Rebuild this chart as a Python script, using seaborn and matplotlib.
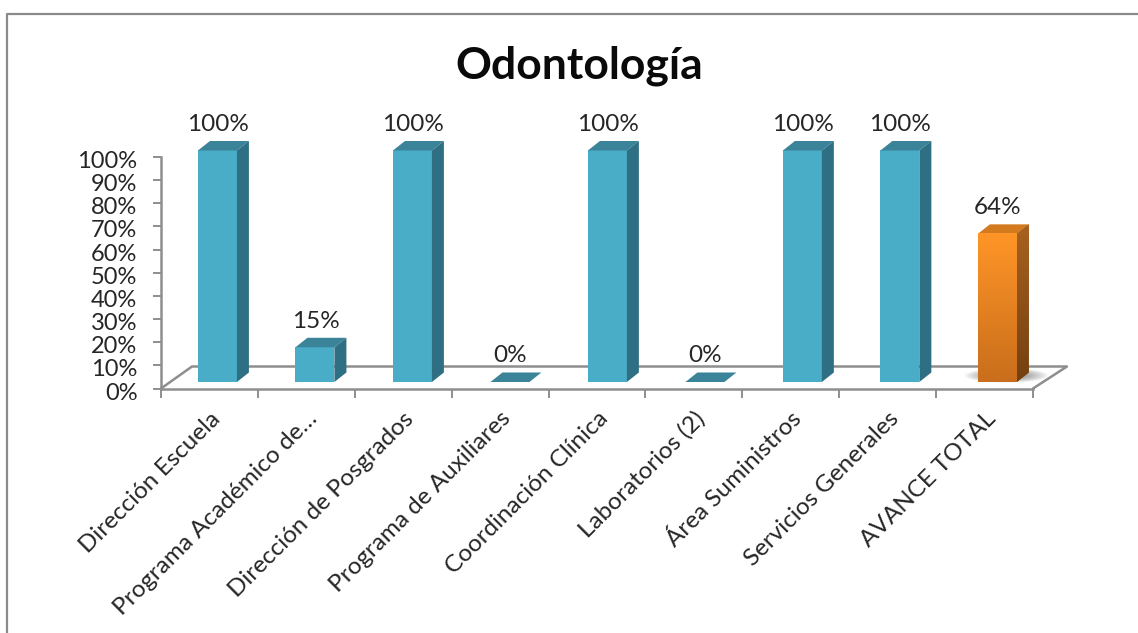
import numpy as np
import pandas as pd
import matplotlib
matplotlib.use("Agg")
import matplotlib.pyplot as plt
from matplotlib.lines import Line2D
from matplotlib.patches import Polygon
from matplotlib.colors import LinearSegmentedColormap
from matplotlib.ticker import PercentFormatter
from matplotlib.transforms import ScaledTranslation
import seaborn as sns

categories = ["Dirección Escuela", "Programa Académico de…", "Dirección de Posgrados",
              "Programa de Auxiliares", "Coordinación Clínica", "Laboratorios (2)",
              "Área Suministros", "Servicios Generales", "AVANCE TOTAL"]
values = [100, 15, 100, 0, 100, 0, 100, 100, 64]
bar_colors = ["#4AADC8"] * 8 + ["#E9851F"]
side_colors = ["#2F6F83"] * 8 + ["#8F5218"]
top_colors = ["#3A8399"] * 8 + ["#D47A1E"]
ticks = list(range(0, 101, 10))

W, H = 1138, 633
X0, X1, Y0, Y1 = 161, 1033, 388.5, 157

sns.set_theme(style="white")
plt.rcParams["font.family"] = ["Lato", "DejaVu Sans"]
TXT = "#262626"
AX = "#8E8E8E"

fig = plt.figure(figsize=(W / 100, H / 100), dpi=100, facecolor="white")
ax = fig.add_axes([X0 / W, 1 - Y0 / H, (X1 - X0) / W, (Y0 - Y1) / H])

df = pd.DataFrame({"cat": categories, "val": values})
sns.barplot(data=df, x="cat", y="val", hue="cat", palette=bar_colors, legend=False,
            width=0.402, ax=ax, saturation=1, linewidth=0, zorder=3)

upx = (X1 - X0) / 9      # px per category
vpx = (Y0 - Y1) / 100    # px per percent
dx = lambda p: p / upx
dy = lambda p: p / vpx


def fix_limits():
    ax.set_xlim(-0.5, 8.5)
    ax.set_ylim(0, 100)


fix_limits()

# floor of the 3-D chart
floor = [(0 - .5, 0), (-.5 + dx(31), dy(22)), (8.5 + dx(34), dy(22)), (8.5, 0)]
ax.add_line(Line2D(*zip(*floor), color=AX, lw=1.8, clip_on=False, zorder=1))

depth_x, depth_y = dx(12), dy(9.5)
lift = dy(6.5)
bars = [p for p in ax.patches]
sides = []
for i, (p, v) in enumerate(zip(bars, values)):
    cx = i * 1.0062 + dx(8)
    w = p.get_width()
    p.set_x(cx - w / 2)
    p.set_y(lift)
    p.set_clip_on(False)
    xl, xr = cx - w / 2, cx + w / 2
    b, t = lift, lift + v
    top = Polygon([(xl, t), (xl + depth_x, t + depth_y), (xr + depth_x, t + depth_y), (xr, t)],
                  closed=True, fc=top_colors[i], ec="none", zorder=3, clip_on=False)
    ax.add_patch(top)
    side = None
    if v > 0:
        side = Polygon([(xr, b), (xr + depth_x, b + depth_y), (xr + depth_x, t + depth_y), (xr, t)],
                       closed=True, fc=side_colors[i], ec="none", zorder=3, clip_on=False)
        ax.add_patch(side)
    else:
        p.set_visible(False)
    sides.append(side)
    ax.annotate(f"{v}%", (cx + dx(0.5), t + depth_y), xytext=(0, 6), textcoords="offset pixels",
                ha="center", va="bottom", fontsize=17.5, color=TXT, annotation_clip=False, zorder=5)

# orange bar: vertical gradient and soft shadow on the floor
p = bars[-1]
xl, xr = p.get_x(), p.get_x() + p.get_width()
b, t = p.get_y(), p.get_y() + p.get_height()
cm = LinearSegmentedColormap.from_list("o", ["#FF9527", "#C96E1C"])
front_im = ax.imshow(np.linspace(0, 1, 128)[:, None], extent=(xl, xr, b, t), origin="upper", cmap=cm,
                     aspect="auto", zorder=3.5, clip_on=False)
p.set_visible(False)
side_cm = LinearSegmentedColormap.from_list("s", ["#A8611F", "#734010"])
side_im = ax.imshow(np.linspace(0, 1, 128)[:, None], extent=(xr, xr + depth_x, b, t + depth_y),
                    origin="upper", cmap=side_cm, aspect="auto", zorder=3.2)
side_im.set_clip_path(sides[-1])
yy, xx = np.mgrid[-1:1:40j, -1:1:160j]
alpha = np.clip(1 - np.sqrt(xx**2 + yy**2), 0, 1) ** 0.8 * 0.8
rgba = np.zeros((40, 160, 4))
rgba[..., :3] = 0.3
rgba[..., 3] = alpha
ax.imshow(rgba, extent=(xl - dx(14), xr + dx(32), b - dy(1), b + dy(13)), aspect="auto", zorder=2, clip_on=False)
fix_limits()

# axes
sns.despine(ax=ax, top=True, right=True)
for s in ("left", "bottom"):
    ax.spines[s].set_color(AX)
    ax.spines[s].set_linewidth(1.8)
    ax.spines[s].set_zorder(1)
ax.set_yticks(ticks)
ax.yaxis.set_major_formatter(PercentFormatter(100, decimals=0))
ax.set_xticks(np.arange(-0.5, 9, 1), minor=True)
ax.set_xticks(range(9))
ax.set_xticklabels(categories, rotation=45, ha="right", rotation_mode="anchor")
ax.tick_params(axis="x", which="minor", bottom=True, length=6.5, width=1.4, color=AX)
ax.tick_params(axis="x", which="major", bottom=False, labelsize=17.5, labelcolor=TXT, pad=8)
ax.tick_params(axis="y", left=True, length=6, width=1.4, color=AX, labelsize=17, labelcolor=TXT, pad=11)
ax.set_xlabel("")
ax.set_ylabel("")
shift = ScaledTranslation(0, -2.5 / 100, fig.dpi_scale_trans)
for lab in ax.get_yticklabels():
    lab.set_transform(lab.get_transform() + shift)

fig.text(579 / W, 1 - 66 / H, "Odontología", ha="center", va="center", fontsize=32, fontweight="bold", color="#0A0A0A")

# outer frame
fig.add_artist(Line2D([7 / W, 7 / W, 1], [0, 1 - 13.5 / H, 1 - 13.5 / H], color="#8A8A8A", lw=1.6,
                      transform=fig.transFigure))

fig.savefig("out.png", dpi=100)
